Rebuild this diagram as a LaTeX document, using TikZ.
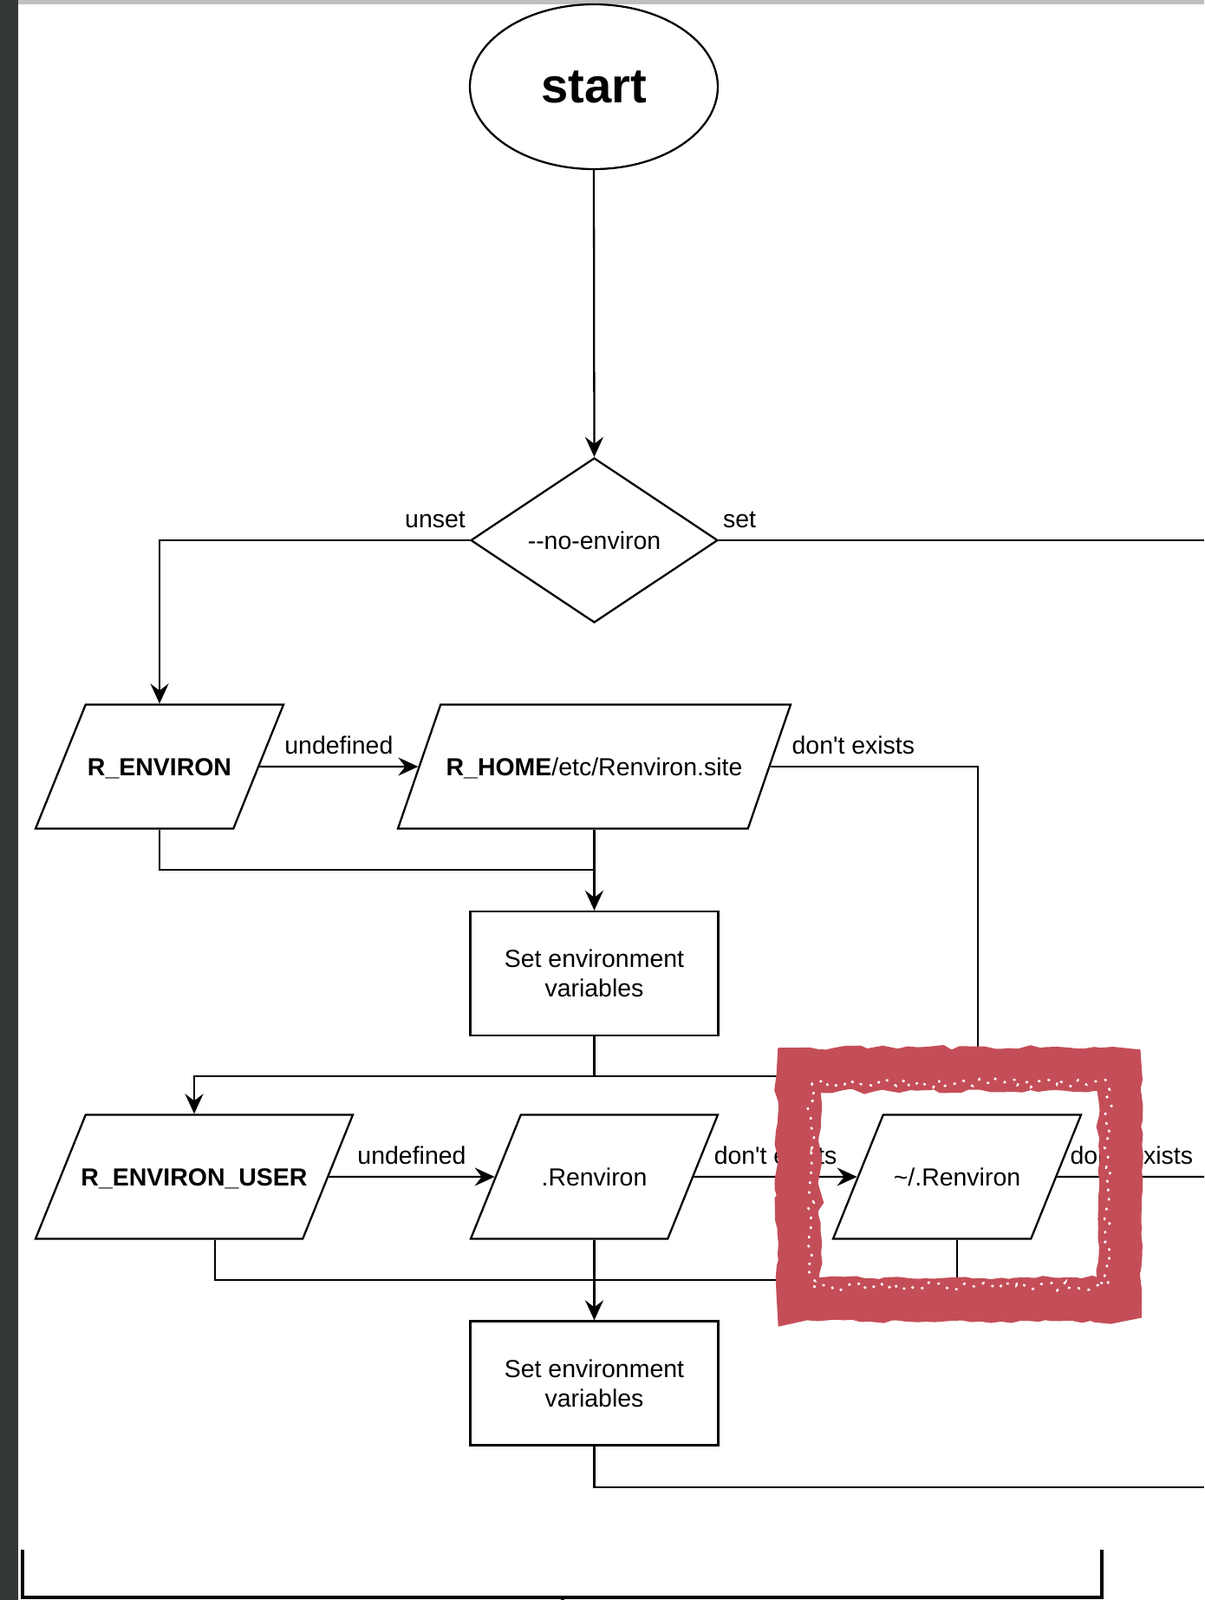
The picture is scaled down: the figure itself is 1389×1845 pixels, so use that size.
\documentclass[tikz,border=0pt]{standalone}
\usepackage{fontspec}
\setmainfont{Liberation Sans}
\usepackage{tikz}
\usetikzlibrary{shapes.geometric}
\usetikzlibrary{arrows.meta}
\usetikzlibrary{decorations.pathmorphing}
\definecolor{markred}{RGB}{196,78,88}
\definecolor{sidebar}{RGB}{50,55,56}
\newcommand{\slim}[1]{\makebox[0pt]{#1}}
\newcommand{\dont}{don\textquotesingle t exists}

\begin{document}
\begin{tikzpicture}[x=0.1mm, y=-0.1mm, line width=0.65pt,
  font=\fontsize{8.1}{9.7}\selectfont,
  >={Stealth[length=2.3mm, width=2.1mm, inset=0.8mm]},
  io/.style={trapezium, trapezium left angle=68, trapezium right angle=112,
    trapezium stretches body=true, draw, text height=8.17mm, text depth=6.13mm,
    inner sep=0pt},
  proc/.style={rectangle, draw, minimum width=28.6mm, minimum height=14.3mm,
    align=center, inner sep=0pt},
  edgelbl/.style={anchor=base, yshift=4pt, inner sep=0pt}]

\useasboundingbox (0,0) rectangle (1389,1845);
\fill[sidebar] (0,0) rectangle (21,1845);
\draw[gray!50, line width=1.5pt] (21,2.5) -- (1389,2.5);

\node[ellipse, draw, minimum width=28.6mm, minimum height=19mm, inner sep=0pt,
  font=\fontsize{16}{19}\selectfont\bfseries] (start) at (685,100) {start};
\node[diamond, draw, minimum width=28.5mm, minimum height=19mm, inner sep=0pt]
  (noenv) at (685.5,623) {\slim{-\kern0pt-no-environ}};

\node[io, minimum width=28.6mm] (renv) at (184,884) {\slim{\textbf{R\_ENVIRON}}};
\node[io, minimum width=45.3mm, trapezium left angle=71, trapezium right angle=109]
  (rhome) at (685.5,884) {\slim{\textbf{R\_HOME}/etc/Renviron.site}};
\node[proc] (set1) at (685.5,1122.5) {Set environment\\variables};

\node[io, minimum width=36.6mm] (ruser) at (224,1357) {\slim{\textbf{R\_ENVIRON\_USER}}};
\node[io, minimum width=28.5mm] (dotrenv) at (685.5,1357) {\slim{.Renviron}};
\node[io, minimum width=28.6mm] (homerenv) at (1104,1357) {\slim{\textasciitilde/.Renviron}};
\node[proc] (set2) at (685.5,1595) {Set environment\\variables};

\coordinate (setend) at (1389,623);
\coordinate (siteend) at (1128,1241);
\coordinate (envjoin) at (685.5,1003);
\coordinate (homeend) at (1389,1357);
\coordinate (userjoin) at (248,1476);
\coordinate (setend2) at (1389,1715);

\draw[->] (start.south) -- (noenv.north);
\draw[->] (noenv.west) -| (renv.north)
  node[edgelbl, anchor=base east, pos=0, xshift=-1.1pt] {unset};
\draw (noenv.east) -- (setend)
  node[edgelbl, anchor=base west, pos=0, xshift=1.1pt] {set};

\draw[->] (renv.east) -- (rhome.west) node[edgelbl, midway] {undefined};
\draw (rhome.east) -| node[edgelbl, pos=0.2] {\dont} (siteend)
  -- (set1.south |- siteend);
\draw (renv.south) |- (envjoin);
\draw[->] (rhome.south) -- (set1.north);
\draw[->] (set1.south) -- (set1.south |- siteend) -| (ruser.north);

\draw[->] (ruser.east) -- (dotrenv.west) node[edgelbl, midway] {undefined};
\draw[->] (dotrenv.east) -- (homerenv.west) node[edgelbl, midway] {\dont};
\draw (homerenv.east) -- (homeend)
  node[edgelbl, anchor=base west, pos=0, xshift=4pt] {\dont};
\draw[->] (dotrenv.south) -- (set2.north);
\draw (ruser.south -| userjoin) -- (userjoin) -| (homerenv.south);
\draw (set2.south) |- (setend2);

\draw[line width=1.1pt] (26,1787) -- (26,1842) -- (1271,1842) -- (1271,1787);
\draw[line width=1.1pt] (649,1842) -- (649,1845);

\draw[markred, line width=5mm, decorate,
  decoration={random steps, segment length=3pt, amplitude=0.7pt}]
  (921,1233) rectangle (1292,1499);
\draw[white, line width=0.7pt, dash pattern=on 0.8pt off 2.5pt, decorate,
  decoration={random steps, segment length=2pt, amplitude=1.5pt}]
  (936,1249) rectangle (1277,1483);

\end{tikzpicture}
\end{document}
